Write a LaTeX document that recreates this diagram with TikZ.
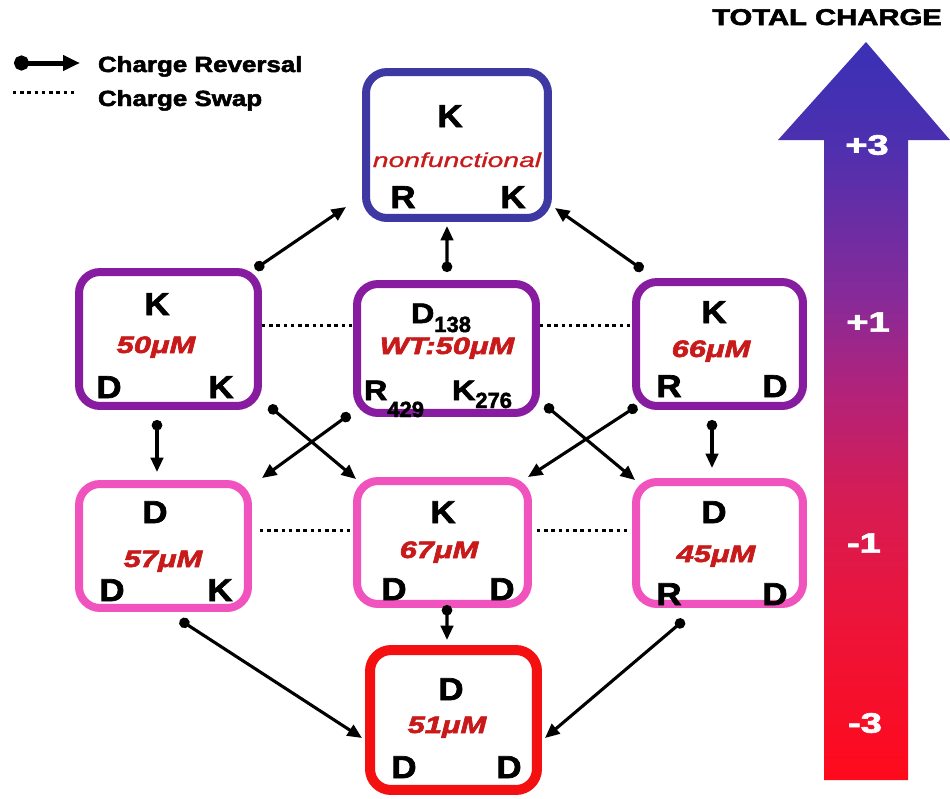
\documentclass[tikz,border=0pt]{standalone}
\usepackage{fontspec}
\setmainfont{Liberation Sans}[
  BoldFeatures={FakeBold=2.2},
  BoldItalicFeatures={FakeBold=2.2},
  ItalicFeatures={FakeBold=0.8}]
\usetikzlibrary{arrows.meta,calc}

% box outline colours
\definecolor{topblue}{RGB}{62,56,162}
\definecolor{midpurple}{RGB}{136,28,160}
\definecolor{lowpink}{RGB}{240,82,190}
\definecolor{botred}{RGB}{244,16,16}
\definecolor{valred}{RGB}{200,26,26}

% colours of the charge ramp, bottom to top
\definecolor{rampA}{RGB}{255,10,28}
\definecolor{rampB}{RGB}{236,20,58}
\definecolor{rampC}{RGB}{214,28,84}
\definecolor{rampD}{RGB}{180,34,120}
\definecolor{rampE}{RGB}{136,42,152}
\definecolor{rampF}{RGB}{76,48,176}
\definecolor{rampG}{RGB}{58,48,182}
\pgfdeclareverticalshading{chargeramp}{100bp}{color(0bp)=(rampA); color(25bp)=(rampA); color(36bp)=(rampB); color(44bp)=(rampC); color(51bp)=(rampD); color(57.5bp)=(rampE); color(68.4bp)=(rampF); color(75bp)=(rampG); color(100bp)=(rampG)}

% text helpers
\newcommand\resid[1]{\scalebox{1.1}[1]{\fontsize{18}{18}\selectfont\bfseries #1}}
\newcommand\wtres[1]{\scalebox{1.15}[1]{\fontsize{16}{16}\selectfont\bfseries #1}}
\newcommand\subnum[1]{\fontsize{12.5}{13}\selectfont\bfseries #1}
\newcommand\kdval[1]{\scalebox{1.3}[1]{\fontsize{13.5}{14}\selectfont\bfseries\itshape #1}}
\newcommand\lgtext[1]{\scalebox{1.18}[1]{\fontsize{12.5}{13}\selectfont\bfseries #1}}
\newcommand\chg[1]{\scalebox{1.35}[1]{\fontsize{16}{16}\selectfont\bfseries #1}}

\tikzset{
  box/.style={rectangle, rounded corners=0.42cm, line width=0.16cm, fill=white,
              outer sep=0pt, inner sep=0pt},
  txt/.style={inner sep=0pt, outer sep=0pt},
  val/.style={txt, text=valred, anchor=base},
  rev/.style={line width=0.062cm, arrows={Circle[length=0.21cm]-Triangle[length=0.29cm,width=0.25cm]}},
  swapline/.style={line width=0.06cm, dash pattern=on 0.07cm off 0.075cm},
}

\begin{document}
\begin{tikzpicture}[x=0.02cm,y=-0.02cm]
\useasboundingbox (0,0) rectangle (950,798);

% ---------- total charge ramp ----------
\shade[shading=chargeramp]
  (824,780) -- (824,140) -- (778,140) -- (866,42) -- (950,140) -- (908,140) -- (908,780) -- cycle;
\node[txt, anchor=base] (tcap) at (827,25) {\scalebox{1.28}[1]{\fontsize{13}{13}\selectfont\bfseries TOTAL CHARGE}};
\node[txt, text=white] (cp3) at (867,145) {\chg{+3}};
\node[txt, text=white] (cp1) at (868,322) {\chg{+1}};
\node[txt, text=white] (cm1) at (864,543) {\chg{-1}};
\node[txt, text=white] (cm3) at (865,723) {\chg{-3}};

% ---------- legend ----------
\coordinate (lgA) at (14,63);
\coordinate (lgB) at (80,63);
\draw[line width=0.1cm, arrows={Circle[length=0.3cm]-Triangle[length=0.34cm,width=0.3cm]}] (lgA) -- (lgB);
\coordinate (lgC) at (13,92);
\coordinate (lgD) at (74,92);
\draw[swapline] (lgC) -- (lgD);
\node[txt, anchor=base west] (lgrev) at (98,72) {\lgtext{Charge Reversal}};
\node[txt, anchor=base west] (lgswp) at (98,106) {\lgtext{Charge Swap}};

% ---------- boxes ----------
\node[box, draw=topblue,   minimum width=3.64cm, minimum height=2.92cm] (top) at (457,145) {};
\node[box, draw=midpurple, minimum width=3.58cm, minimum height=2.68cm] (lm)  at (168.5,339) {};
\node[box, draw=midpurple, minimum width=3.58cm, minimum height=2.58cm] (cm)  at (446.5,348.5) {};
\node[box, draw=midpurple, minimum width=3.34cm, minimum height=2.48cm] (rm)  at (719.5,344) {};
\node[box, draw=lowpink,   minimum width=3.38cm, minimum height=2.48cm] (ll)  at (163.5,546) {};
\node[box, draw=lowpink,   minimum width=3.42cm, minimum height=2.46cm] (lc)  at (442.5,542.5) {};
\node[box, draw=lowpink,   minimum width=3.34cm, minimum height=2.44cm] (lr)  at (719.5,543) {};
\node[box, draw=botred, line width=0.2cm, minimum width=3.34cm, minimum height=2.80cm] (bot) at (453.5,720) {};

% ---------- box contents ----------
% top: nonfunctional
\node[txt, anchor=base] (topK) at (450,127) {\resid{K}};
\node[txt, anchor=base, text=valred] (topnf) at (457,167) {\scalebox{1.4}[1]{\fontsize{11.5}{12}\selectfont\itshape nonfunctional}};
\node[txt, anchor=base] (topR) at (403,208) {\resid{R}};
\node[txt, anchor=base] (topK2) at (513,208) {\resid{K}};
% left middle
\node[txt, anchor=base] (lmK) at (157,315) {\resid{K}};
\node[val] (lmv) at (156,353) {\kdval{50μM}};
\node[txt, anchor=base] (lmD) at (109,398) {\resid{D}};
\node[txt, anchor=base] (lmK2) at (221,398) {\resid{K}};
% wild type
\node[txt, anchor=base west] (cmD) at (411,323) {\wtres{D}\raisebox{-0.18cm}{\subnum{138}}};
\node[val] (cmv) at (447,354) {\kdval{WT:50μM}};
\node[txt, anchor=base west] (cmR) at (364,400) {\wtres{R}\raisebox{-0.34cm}{\subnum{429}}};
\node[txt, anchor=base west] (cmK) at (452,400) {\wtres{K}\raisebox{-0.16cm}{\subnum{276}}};
% right middle
\node[txt, anchor=base] (rmK) at (714,323) {\resid{K}};
\node[val] (rmv) at (711,357) {\kdval{66μM}};
\node[txt, anchor=base] (rmR) at (669,397) {\resid{R}};
\node[txt, anchor=base] (rmD) at (775,397) {\resid{D}};
% lower left
\node[txt, anchor=base] (llD) at (155,523) {\resid{D}};
\node[val] (llv) at (163,567) {\kdval{57μM}};
\node[txt, anchor=base] (llD2) at (112,601) {\resid{D}};
\node[txt, anchor=base] (llK) at (220,601) {\resid{K}};
% lower centre
\node[txt, anchor=base] (lcK) at (443,523) {\resid{K}};
\node[val] (lcv) at (439,558) {\kdval{67μM}};
\node[txt, anchor=base] (lcD) at (394,600) {\resid{D}};
\node[txt, anchor=base] (lcD2) at (502,600) {\resid{D}};
% lower right
\node[txt, anchor=base] (lrD) at (714,523) {\resid{D}};
\node[val] (lrv) at (716,562) {\kdval{45μM}};
\node[txt, anchor=base] (lrR) at (669,605) {\resid{R}};
\node[txt, anchor=base] (lrD2) at (775,605) {\resid{D}};
% bottom
\node[txt, anchor=base] (botD) at (451,700) {\resid{D}};
\node[val] (botv) at (447,733) {\kdval{51μM}};
\node[txt, anchor=base] (botD2) at (404,778) {\resid{D}};
\node[txt, anchor=base] (botD3) at (509,778) {\resid{D}};

% ---------- charge swaps ----------
\coordinate (s1) at ($(lm.east)+(4,-14)$);
\draw[swapline] (s1) -- ($(s1 -| cm.west)+(-4,0)$);
\coordinate (s2) at ($(cm.east)+(4,-23.5)$);
\draw[swapline] (s2) -- ($(s2 -| rm.west)+(-4,0)$);
\coordinate (s3) at ($(ll.east)+(12,-16)$);
\draw[swapline] (s3) -- ($(s3 -| lc.west)+(-7,0)$);
\coordinate (s4) at ($(lc.east)+(9,-12.5)$);
\draw[swapline] (s4) -- ($(s4 -| lr.west)+(-6,0)$);

% ---------- charge reversals ----------
\draw[rev] ($(lm.north east)+(-3,-3)$) -- ($(top.south west)+(-20,-11)$);
\draw[rev] ($(cm.north)+(0.5,-12)$) -- ($(top.south)+(-10,8)$);
\draw[rev] ($(rm.north west)+(7,-12)$) -- ($(top.south east)+(7,-10)$);
\draw[rev] ($(lm.south)+(-11.5,14)$) -- ($(ll.north)+(-6.5,-12)$);
\draw[rev] ($(lm.south east)+(11,0)$) -- ($(lc.north west)+(-1,-2)$);
\draw[rev] ($(cm.south west)+(-7,1)$) -- ($(ll.north east)+(14,-6)$);
\draw[rev] ($(cm.south east)+(9,-8)$) -- ($(lr.north west)+(-1,-2)$);
\draw[rev] ($(rm.south west)+(1,0)$) -- ($(lc.north east)+(0,-4)$);
\draw[rev] ($(rm.south)+(-7.5,14)$) -- ($(lr.north)+(-7.5,-14)$);
\draw[rev] ($(ll.south)+(16.5,12)$) -- ($(bot.west)+(-8,18)$);
\draw[rev] ($(lc.south)+(4.5,1)$) -- ($(bot.north)+(-6.5,-10)$);
\draw[rev] ($(lr.south)+(-35.5,16)$) -- ($(bot.east)+(8,18)$);
\end{tikzpicture}
\end{document}
